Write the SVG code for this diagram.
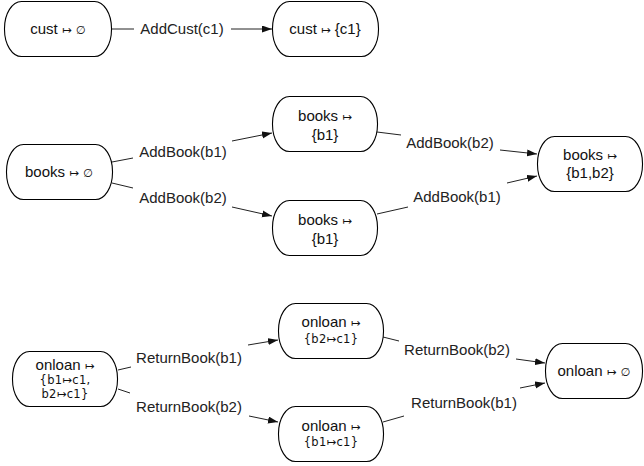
<svg xmlns="http://www.w3.org/2000/svg" width="644" height="466" viewBox="0 0 644 466">
  <style>
    .node rect { fill: #ffffff; stroke: #000000; stroke-width: 1.1; }
    .nt { font-family: "Liberation Sans", Arial, sans-serif; font-size: 15px; fill: #111111; text-anchor: middle; }
    .st { font-family: "DejaVu Sans", "Liberation Sans", sans-serif; font-size: 11.5px; letter-spacing: 0.3px; fill: #111111; text-anchor: middle; }
    .sym { font-family: "DejaVu Sans", sans-serif; font-size: 11.5px; }
    .lbl { font-family: "Liberation Sans", Arial, sans-serif; font-size: 15px; fill: #222222; text-anchor: middle; }
    .edge { stroke: #222222; stroke-width: 1; fill: none; }
    .arr { marker-end: url(#head); }
  </style>
  <defs>
    <marker id="head" markerUnits="userSpaceOnUse" markerWidth="11" markerHeight="8" refX="10" refY="3.5" orient="auto">
      <path d="M0,0 L10,3.5 L0,7 z" fill="#111111"/>
    </marker>
  </defs>

  <rect width="644" height="466" fill="#ffffff"/>

  <!-- connectors -->
  <g id="connectors">
    <!-- customers -->
    <line class="edge" x1="111" y1="29" x2="134" y2="29"/>
    <line class="edge arr" x1="231" y1="29" x2="272" y2="29"/>
    <!-- books -->
    <line class="edge" x1="112" y1="162" x2="133" y2="158"/>
    <line class="edge arr" x1="232" y1="141" x2="272" y2="133"/>
    <line class="edge" x1="112" y1="183" x2="133" y2="188"/>
    <line class="edge arr" x1="232" y1="207" x2="272" y2="216"/>
    <line class="edge" x1="377" y1="132" x2="401" y2="135"/>
    <line class="edge arr" x1="500" y1="150" x2="537" y2="154"/>
    <line class="edge" x1="377" y1="214" x2="408" y2="207"/>
    <line class="edge arr" x1="507" y1="183" x2="537" y2="176"/>
    <!-- onloan -->
    <line class="edge" x1="118" y1="370" x2="131" y2="367"/>
    <line class="edge arr" x1="248" y1="345" x2="278" y2="340"/>
    <line class="edge" x1="118" y1="389" x2="130" y2="393"/>
    <line class="edge arr" x1="249" y1="416" x2="278" y2="422"/>
    <line class="edge" x1="383" y1="337" x2="399" y2="341"/>
    <line class="edge arr" x1="516" y1="359" x2="545" y2="363"/>
    <line class="edge" x1="383" y1="422" x2="404" y2="416"/>
    <line class="edge arr" x1="520" y1="388" x2="545" y2="383"/>
  </g>

  <!-- connector labels -->
  <g id="labels">
    <text class="lbl" x="182" y="34">AddCust(c1)</text>
    <text class="lbl" x="183" y="157">AddBook(b1)</text>
    <text class="lbl" x="183" y="203">AddBook(b2)</text>
    <text class="lbl" x="450" y="148">AddBook(b2)</text>
    <text class="lbl" x="457" y="202">AddBook(b1)</text>
    <text class="lbl" x="189" y="363">ReturnBook(b1)</text>
    <text class="lbl" x="189" y="412">ReturnBook(b2)</text>
    <text class="lbl" x="457" y="355">ReturnBook(b2)</text>
    <text class="lbl" x="464" y="408">ReturnBook(b1)</text>
  </g>

  <!-- states -->
  <g id="cust-empty" class="node">
    <rect x="4.5" y="1.5" width="107" height="55" rx="17" ry="27"/>
    <text class="nt" x="58" y="34">cust <tspan class="sym">↦</tspan> <tspan class="sym">∅</tspan></text>
  </g>
  <g id="cust-c1" class="node">
    <rect x="272.5" y="1.5" width="106" height="55" rx="17" ry="27"/>
    <text class="nt" x="325" y="34">cust <tspan class="sym">↦</tspan> {c1}</text>
  </g>

  <g id="books-empty" class="node">
    <rect x="6.5" y="144.5" width="106" height="55" rx="17" ry="27"/>
    <text class="nt" x="59" y="177">books <tspan class="sym">↦</tspan> <tspan class="sym">∅</tspan></text>
  </g>
  <g id="books-b1-top" class="node">
    <rect x="272.5" y="96.5" width="105" height="55" rx="17" ry="27"/>
    <text class="nt" x="325" y="121">books <tspan class="sym">↦</tspan></text>
    <text class="nt" x="325" y="140">{b1}</text>
  </g>
  <g id="books-b1-bottom" class="node">
    <rect x="272.5" y="200.5" width="105" height="55" rx="17" ry="27"/>
    <text class="nt" x="325" y="225">books <tspan class="sym">↦</tspan></text>
    <text class="nt" x="325" y="244">{b1}</text>
  </g>
  <g id="books-b1b2" class="node">
    <rect x="537.5" y="136.5" width="105" height="55" rx="17" ry="27"/>
    <text class="nt" x="590" y="160">books <tspan class="sym">↦</tspan></text>
    <text class="nt" x="590" y="178">{b1,b2}</text>
  </g>

  <g id="onloan-both" class="node">
    <rect x="12.5" y="351.5" width="105" height="55" rx="17" ry="27"/>
    <text class="nt" x="65" y="370">onloan <tspan class="sym">↦</tspan></text>
    <text class="st" x="65" y="384">{b1↦c1,</text>
    <text class="st" x="65" y="398">b2↦c1}</text>
  </g>
  <g id="onloan-b2" class="node">
    <rect x="278.5" y="303.5" width="105" height="55" rx="17" ry="27"/>
    <text class="nt" x="331" y="327">onloan <tspan class="sym">↦</tspan></text>
    <text class="st" x="331" y="343">{b2↦c1}</text>
  </g>
  <g id="onloan-b1" class="node">
    <rect x="278.5" y="406.5" width="105" height="55" rx="17" ry="27"/>
    <text class="nt" x="331" y="431">onloan <tspan class="sym">↦</tspan></text>
    <text class="st" x="331" y="446">{b1↦c1}</text>
  </g>
  <g id="onloan-empty" class="node">
    <rect x="545.5" y="343.5" width="97" height="55" rx="17" ry="27"/>
    <text class="nt" x="594" y="376">onloan <tspan class="sym">↦</tspan> <tspan class="sym">∅</tspan></text>
  </g>
</svg>
